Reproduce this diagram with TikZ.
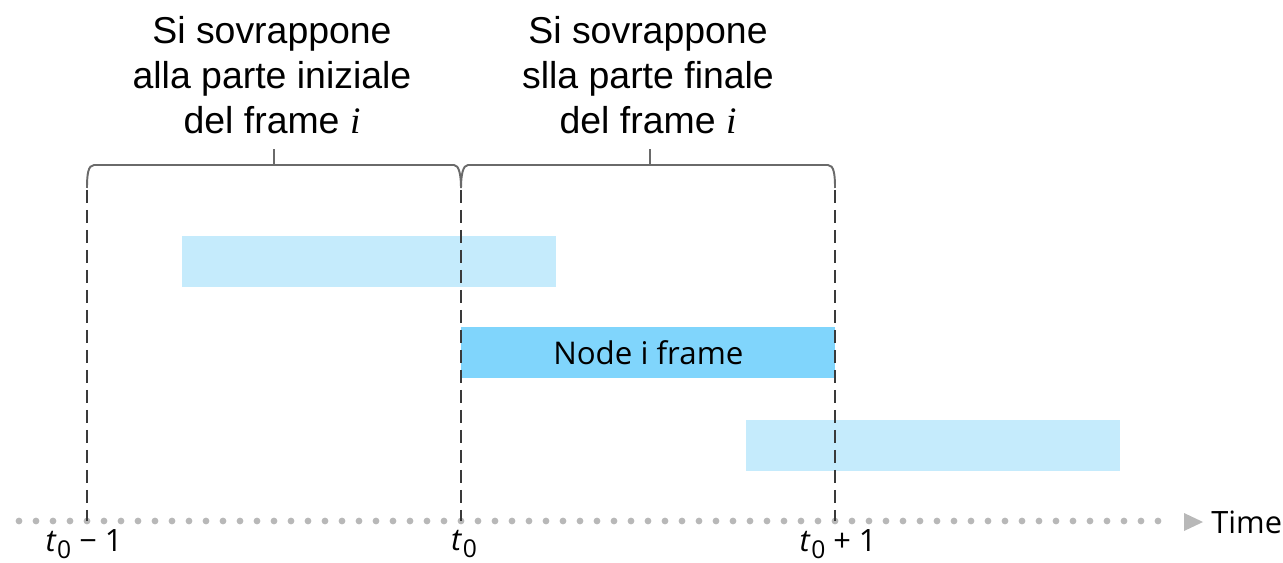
\documentclass[tikz,border=0pt]{standalone}
\usepackage{fontspec}
\setmainfont{Liberation Sans}
\newfontfamily\labelfont{Open Sans}
\newfontfamily\serifit{Liberation Serif}
\newcommand{\tzero}{{\itshape t}\kern0.05em\raisebox{-0.22em}{\fontsize{14}{16}\selectfont 0}}
\begin{document}
\begin{tikzpicture}[x=0.02cm,y=-0.02cm,
  lightbar/.style={fill=lightblue, draw=none, minimum width=7.48cm, minimum height=1.02cm, inner sep=0pt, anchor=north west},
  mainbar/.style={lightbar, fill=mainblue},
  guide/.style={draw=guidegray, line width=1.3pt, dash pattern=on 0.26cm off 0.14cm},
  brace/.style={draw=bracegray, line width=1.1pt},
  caption/.style={align=center, font=\fontsize{21.3}{25.6}\selectfont, inner sep=0pt},
  ticklabel/.style={font=\labelfont\fontsize{17.5}{20}\selectfont, inner sep=0pt},
  axisdot/.style={fill=dotgray, draw=none}
]
\definecolor{lightblue}{HTML}{C5EBFC}
\definecolor{mainblue}{HTML}{80D5FC}
\definecolor{guidegray}{HTML}{3A3A3A}
\definecolor{bracegray}{HTML}{6A6A6A}
\definecolor{dotgray}{HTML}{B8B8B8}
\useasboundingbox (0,0) rectangle (1283,563);

% time marks
\coordinate (m0top) at (87,190);   \coordinate (m0) at (87,521);
\coordinate (m1top) at (461,190);  \coordinate (m1) at (461,521);
\coordinate (m2top) at (835,190);  \coordinate (m2) at (835,521);

% frames
\node[lightbar] (prev) at (182,236) {};
\node[mainbar] (cur) at (461,327) {\labelfont\fontsize{17.8}{20}\selectfont Node i frame};
\node[lightbar] (next) at (746,420) {};

% dotted time axis
\foreach \k in {-4,...,63} \fill[axisdot] (87+17*\k,521) circle (3.4);
\coordinate (arrowtip) at (1203,522);
\fill[dotgray] (1184,513) -- (arrowtip) -- (1184,531) -- cycle;
\node[anchor=west, font=\labelfont\fontsize{17.5}{20}\selectfont, inner sep=0pt] (time) at (1211,522) {Time};

% dashed guides
\draw[guide] (m0top) -- (m0);
\draw[guide] (m1top) -- (m1);
\draw[guide] (m2top) -- (m2);

% braces
\coordinate (b0) at (87,188);
\coordinate (b1) at (461,188);
\coordinate (b2) at (835,188);
\coordinate (tipA) at (274,149);
\coordinate (tipB) at (650,149);
\draw[brace] (b0) .. controls (87,175) and (88,165) .. (94,165) -- (454,165)
  .. controls (459,165) and (461,175) .. (b1);
\draw[brace] (b1) .. controls (461,175) and (463,165) .. (468,165) -- (828,165)
  .. controls (834,165) and (835,175) .. (b2);
\draw[brace] (274,165) -- (tipA);
\draw[brace] (650,165) -- (tipB);

% captions
\node[caption, anchor=south] (capA) at (272,134) {Si sovrappone\\alla parte iniziale\\del frame {\serifit\itshape i}};
\node[caption, anchor=south] (capB) at (648,134) {Si sovrappone\\slla parte finale\\del frame {\serifit\itshape i}};

% tick labels
\node[ticklabel] (l0) at (84,544) {\tzero\ \symbol{"2212} 1};
\node[ticklabel] (l1) at (464,544) {\tzero};
\node[ticklabel] (l2) at (838,544) {\tzero\ + 1};
\end{tikzpicture}
\end{document}
